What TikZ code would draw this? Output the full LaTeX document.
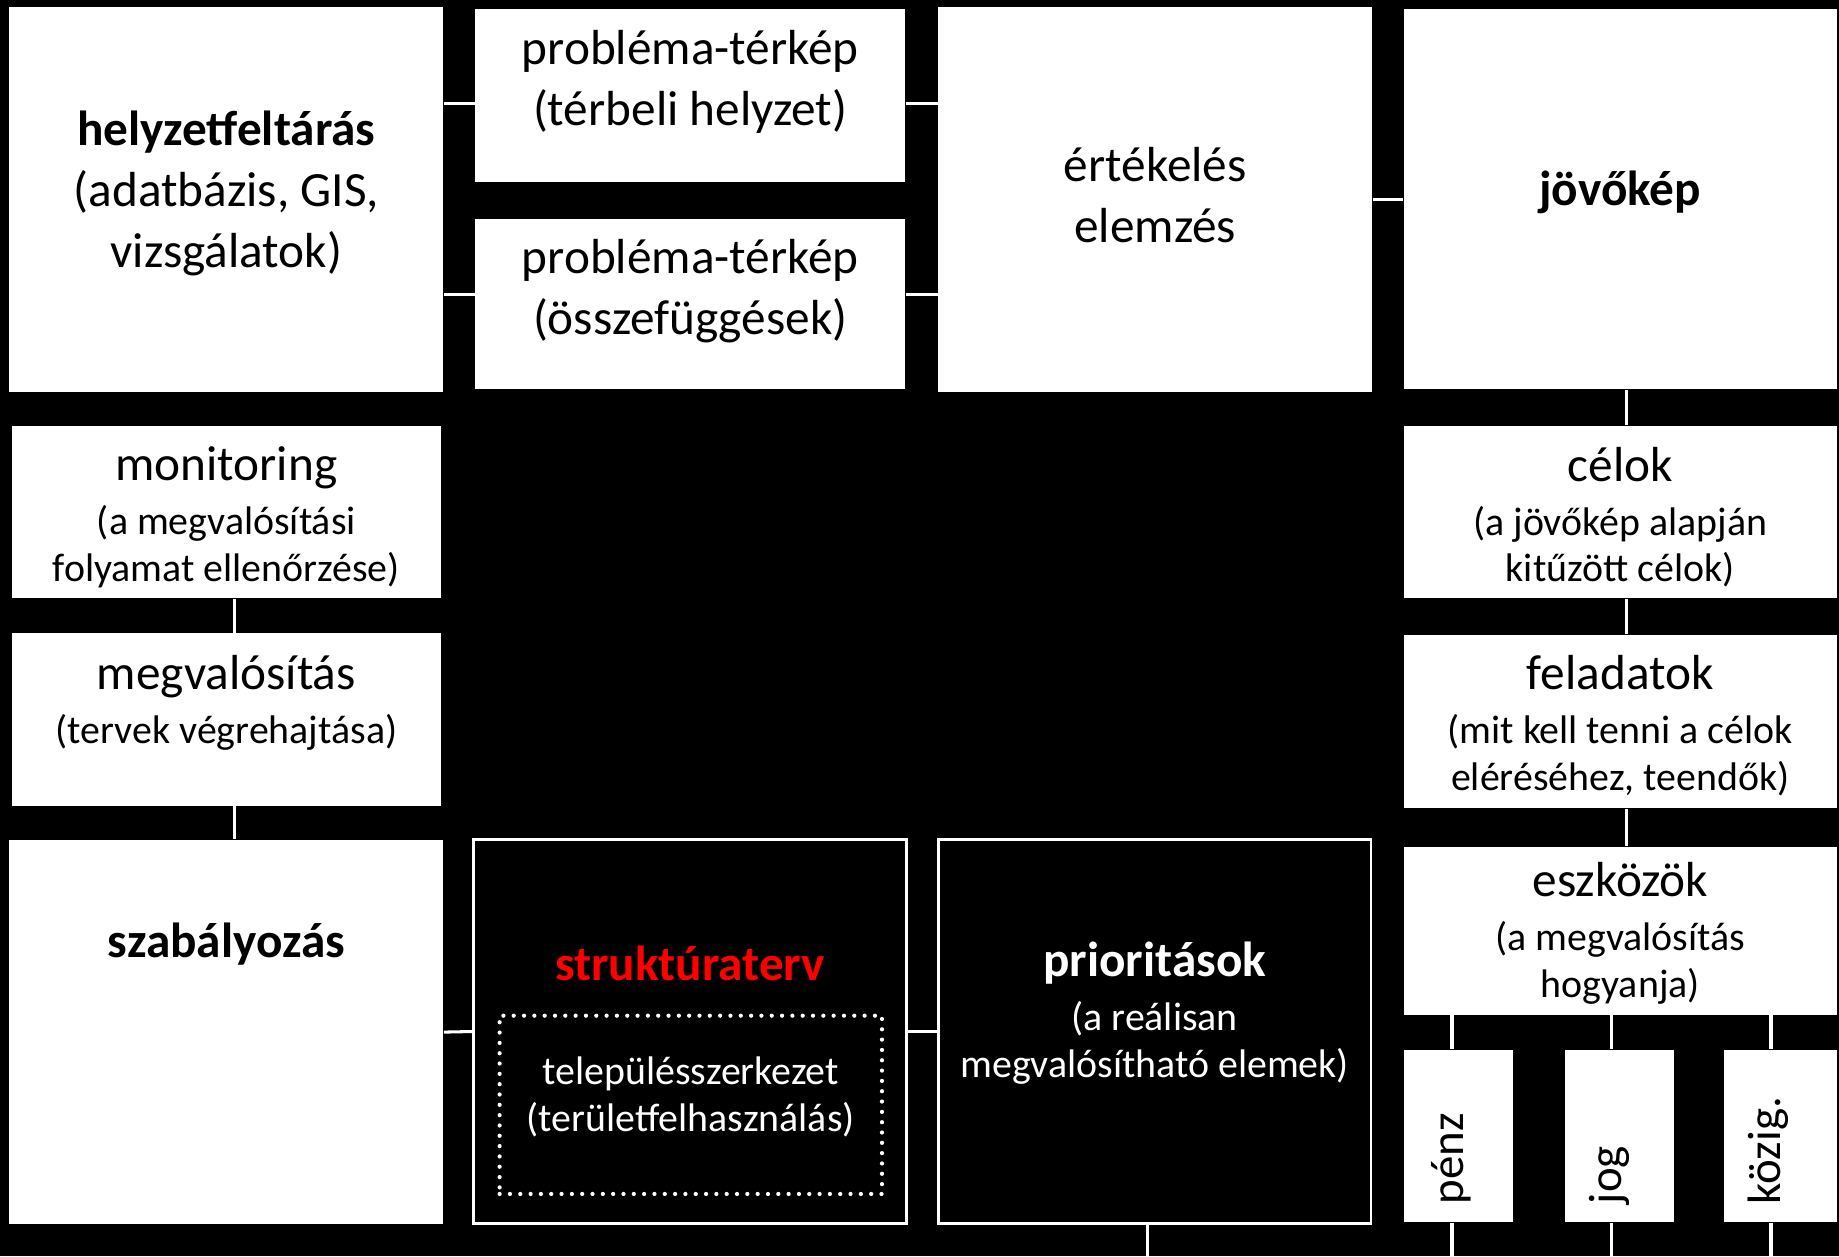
\documentclass[tikz,border=0pt]{standalone}
\usepackage{fontspec}
\setmainfont{Carlito}
\begin{document}
\begin{tikzpicture}[x=0.5pt,y=-0.5pt,
  wbox/.style={fill=white, draw=none, inner sep=0pt},
  kbox/.style={fill=black, draw=white, line width=1.2pt, inner sep=0pt},
  big/.style={font=\fontsize{21}{26}\selectfont, align=center, inner sep=0pt},
  small/.style={font=\fontsize{17}{20}\selectfont, align=center, inner sep=0pt},
  conn/.style={draw=white, line width=1.3pt},
  vtext/.style={font=\fontsize{20}{24}\selectfont, rotate=90, anchor=west, inner sep=0pt}
]
\fill[black] (0,0) rectangle (1568,1071);
\useasboundingbox (0,0) rectangle (1568,1071);
\coordinate (bot) at (0,1071);

% boxes
\node[wbox, minimum width=185pt, minimum height=164pt] (helyz) at (193,170) {};
\node[wbox, minimum width=183.5pt, minimum height=73.5pt] (p1) at (588.5,81.5) {};
\node[wbox, minimum width=183.5pt, minimum height=72.5pt] (p2) at (588.5,259.5) {};
\node[wbox, minimum width=185pt, minimum height=164pt] (ert) at (985,170) {};
\node[wbox, minimum width=184.5pt, minimum height=162pt] (jov) at (1381.5,170) {};
\node[wbox, minimum width=183pt, minimum height=73.5pt] (mon) at (193,436.5) {};
\node[wbox, minimum width=183pt, minimum height=73.5pt] (megv) at (193,613.5) {};
\node[wbox, minimum width=185pt, minimum height=164pt] (szab) at (193,880) {};
\node[kbox, minimum width=184.5pt, minimum height=163.5pt] (strukt) at (588.5,879.5) {};
\node[draw=white, line width=1.8pt, line cap=round, dash pattern=on 0pt off 4.4pt, fill=none, inner sep=0pt, minimum width=163pt, minimum height=76pt] (dot) at (589,942) {};
\node[kbox, minimum width=184.5pt, minimum height=163.5pt] (prio) at (984.5,879.5) {};
\node[wbox, minimum width=184.5pt, minimum height=73.5pt] (celok) at (1381.5,436.5) {};
\node[wbox, minimum width=184.5pt, minimum height=74pt] (felad) at (1381.5,615) {};
\node[wbox, minimum width=184.5pt, minimum height=71.5pt] (eszk) at (1381.5,793.5) {};
\node[wbox, minimum width=46.5pt, minimum height=73.5pt] (penz) at (1243.5,968.5) {};
\node[wbox, minimum width=46.5pt, minimum height=73.5pt] (jog) at (1380.5,968.5) {};
\node[wbox, minimum width=48pt, minimum height=73.5pt] (kozig) at (1518,968.5) {};

% texts
\node[big] (helyzT) at (193,165) {\textbf{helyzetfeltárás}\\(adatbázis, GIS,\\vizsgálatok)};
\node[big] (p1T) at (588.5,70) {probléma-térkép\\(térbeli helyzet)};
\node[big] (p2T) at (588.5,248) {probléma-térkép\\(összefüggések)};
\node[big] (ertT) at (985,166) {értékelés\\elemzés};
\node[big] (jovT) at (1381.5,164) {\textbf{jövőkép}};
\node[small] (monT) at (193,441) {{\fontsize{21}{26}\selectfont monitoring}\\[3pt](a megvalósítási\\folyamat ellenőrzése)};
\node[small] (megvT) at (193,599) {{\fontsize{21}{26}\selectfont megvalósítás}\\[3pt](tervek végrehajtása)};
\node[big] (szabT) at (193,805) {\textbf{szabályozás}};
\node[big, text=red] (struktT) at (588.5,821) {\textbf{struktúraterv}};
\node[small, text=white] (dotT) at (589,935) {településszerkezet\\(területfelhasználás)};
\node[small, text=white] (prioT) at (984.5,864) {{\fontsize{21}{26}\selectfont\bfseries prioritások}\\[3pt](a reálisan\\megvalósítható elemek)};
\node[small] (celokT) at (1381.5,441) {{\fontsize{21}{26}\selectfont célok}\\[3pt](a jövőkép alapján\\kitűzött célok)};
\node[small] (feladT) at (1381.5,619) {{\fontsize{21}{26}\selectfont feladatok}\\[3pt](mit kell tenni a célok\\eléréséhez, teendők)};
\node[small] (eszkT) at (1381.5,796) {{\fontsize{21}{26}\selectfont eszközök}\\[3pt](a megvalósítás\\hogyanja)};
\node[vtext] (penzT) at (1237,1027) {pénz};
\node[vtext] (jogT) at (1372,1027) {jog};
\node[vtext] (kozigT) at (1508,1027) {közig.};

% connectors
\draw[conn] ([yshift=-3.25pt]p1.west) -- ([yshift=-3.25pt]p1.west -| helyz.east);
\draw[conn] ([yshift=4pt]p2.west) -- ([yshift=4pt]p2.west -| helyz.east);
\draw[conn] ([yshift=-3.25pt]p1.east) -- ([yshift=-3.25pt]p1.east -| ert.west);
\draw[conn] ([yshift=4pt]p2.east) -- ([yshift=4pt]p2.east -| ert.west);
\draw[conn] (ert.east) -- (jov.west);
\draw[conn] ([xshift=2.75pt]jov.south) -- ([xshift=2.75pt]celok.north);
\draw[conn] ([xshift=2.75pt]celok.south) -- ([xshift=2.75pt]felad.north);
\draw[conn] ([xshift=2.75pt]felad.south) -- ([xshift=2.75pt]eszk.north);
\draw[conn] ([xshift=-2.75pt]penz.north) -- ([xshift=-2.75pt]penz.north |- eszk.south);
\draw[conn] ([xshift=-3.25pt]jog.north) -- ([xshift=-3.25pt]jog.north |- eszk.south);
\draw[conn] ([xshift=-4pt]kozig.north) -- ([xshift=-4pt]kozig.north |- eszk.south);
\draw[conn] ([xshift=-2.75pt]penz.south) -- ([xshift=-2.75pt]penz.south |- bot);
\draw[conn] ([xshift=-3.25pt]jog.south) -- ([xshift=-3.25pt]jog.south |- bot);
\draw[conn] ([xshift=-4pt]kozig.south) -- ([xshift=-4pt]kozig.south |- bot);
\draw[conn] ([xshift=-3.25pt]prio.south) -- ([xshift=-3.25pt]prio.south |- bot);
\draw[conn] ([xshift=3.5pt]mon.south) -- ([xshift=3.5pt]megv.north);
\draw[conn] ([xshift=3.5pt]megv.south) -- ([xshift=3.5pt]szab.north);
\draw[conn] (szab.east) -- (strukt.west);
\draw[conn] (strukt.east) -- (prio.west);
\end{tikzpicture}
\end{document}
